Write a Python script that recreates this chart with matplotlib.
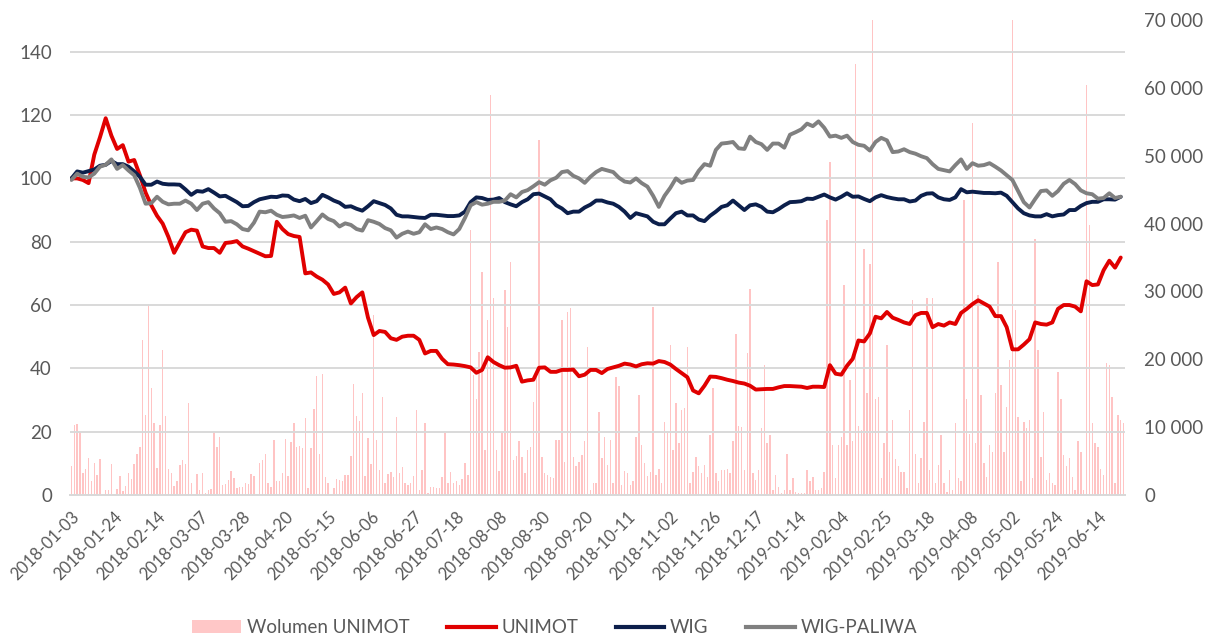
import numpy as np
import matplotlib
matplotlib.use("Agg")
import matplotlib.pyplot as plt
from matplotlib.ticker import FuncFormatter, MultipleLocator
from matplotlib.patches import Patch
from matplotlib.lines import Line2D

plt.rcParams['font.family'] = ['Lato', 'DejaVu Sans']

# tick labels, one every 15 sessions
date_labels = [
    "2018-01-03", "2018-01-24", "2018-02-14", "2018-03-07", "2018-03-28",
    "2018-04-20", "2018-05-15", "2018-06-06", "2018-06-27", "2018-07-18",
    "2018-08-08", "2018-08-30", "2018-09-20", "2018-10-11", "2018-11-02",
    "2018-11-26", "2018-12-17", "2019-01-14", "2019-02-04", "2019-02-25",
    "2019-03-18", "2019-04-08", "2019-05-02", "2019-05-24", "2019-06-14",
]

# index values (start = 100), read every second session
unimot = [
    100, 100, 99.5, 98.5, 107.5, 113, 119, 113.5, 109.3, 110.5,
    105.3, 105.8, 101, 95.5, 91.5, 88.2, 85.7, 81.5, 76.5, 79.8,
    83, 83.8, 83.5, 78.5, 78, 78, 76.5, 79.6, 79.8, 80.2,
    78.5, 77.8, 77, 76.2, 75.4, 75.5, 86.3, 84, 82.4, 81.8,
    81.5, 70, 70.3, 69, 68, 66.5, 63.5, 64, 65.5, 60.5,
    62.5, 64, 56, 50.5, 51.8, 51.5, 49.5, 49, 50, 50.3, 50.3,
    49, 44.7, 45.5, 45.5, 43, 41.3, 41.2, 41, 40.7, 40.3,
    38.6, 39.5, 43.5, 42, 41, 40.2, 40.3, 40.8, 35.8, 36.2,
    36.4, 40.2, 40.3, 38.9, 38.9, 39.5, 39.5, 39.6, 37.5, 38, 39.5,
    39.5, 38.5, 39.8, 40.3, 40.8, 41.5, 41.2, 40.6, 41.3, 41.6,
    41.5, 42.3, 42, 41.2, 39.8, 38.5, 37.2, 33, 32.1, 34.5,
    37.4, 37.3, 36.9, 36.4, 36, 35.5, 35.2, 34.5, 33.3, 33.4, 33.5,
    33.5, 34, 34.4, 34.4, 34.3, 34.2, 33.8, 34.2, 34.2, 34.1,
    41, 38.3, 38, 40.8, 43, 48.8, 48.5, 51, 56.3, 55.8,
    57.8, 56, 55.3, 54.5, 54, 56.8, 57.5, 57.5, 53, 54,
    53.5, 54.5, 54, 57.5, 58.8, 60.3, 61.5, 60.5, 59.5, 56.5,
    56.5, 53, 46, 46, 47.5, 49.2, 54.5, 54, 53.8, 54.5,
    58.8, 60, 60, 59.5, 58, 67.5, 66.3, 66.5, 71, 74, 71.8, 75,
]

wig = [
    100, 102.2, 101.8, 102.3, 102.8, 104, 104.3, 105.5, 104.5, 104.5,
    103.7, 102.2, 100.5, 98, 98, 99, 98.3, 98.1, 98.1, 98,
    96.5, 94.8, 96, 95.8, 96.6, 95.5, 94.3, 94.5, 93.5, 92.5,
    91.2, 91.3, 92.5, 93.4, 93.8, 94.2, 94.1, 94.6, 94.5, 93.3,
    92.8, 93.5, 92.2, 92.8, 94.8, 94, 93, 92.3, 91, 91.2,
    90.4, 89.8, 91.2, 92.8, 92.2, 91.6, 90.5, 88.5, 88, 88, 87.8,
    87.6, 87.5, 88.5, 88.5, 88.3, 88.1, 88.1, 88.3, 89.5, 92.5,
    94, 93.8, 93.2, 93.3, 93.8, 92.5, 91.8, 91.2, 92.5, 93.4,
    95, 95.2, 94.3, 93.4, 91.5, 90.5, 89, 89.5, 89.5, 90.8, 91.7,
    93, 93, 92.4, 92, 91, 89.5, 87.5, 89, 88.5, 88,
    86.3, 85.5, 85.5, 87.3, 89, 89.5, 88.3, 88.3, 87, 86.5,
    88.2, 89.5, 91, 91.5, 93, 91.5, 90, 91.5, 91.8, 91, 89.5,
    89.3, 90.3, 91.5, 92.5, 92.6, 92.8, 93.6, 93.5, 94.2, 94.9,
    94, 93.3, 94.2, 95.3, 94.2, 94.3, 93.5, 92.8, 94, 94.7,
    94.1, 93.7, 93.4, 93.4, 92.7, 93, 94.5, 95.2, 95.3, 94,
    93.4, 93.2, 94, 96.6, 95.6, 95.8, 95.6, 95.4, 95.4, 95.3,
    95.5, 94.5, 92.5, 90.5, 89, 88.3, 88, 88, 88.7, 88,
    88.4, 88.6, 90, 90, 91.3, 92.2, 92.6, 92.6, 93.4, 93.4, 93.3, 94.2,
]

wig_paliwa = [
    99.5, 101.5, 100.5, 100.3, 101.5, 103.7, 104.3, 106, 103, 104.2,
    102.5, 101, 97, 92, 92.2, 94.2, 92.6, 91.8, 92, 92,
    93, 92, 90, 92, 92.5, 90.5, 89, 86.3, 86.5, 85.5,
    84, 83.6, 86, 89.5, 89.3, 89.8, 88.5, 87.8, 88, 88.3,
    87.5, 88.2, 84.5, 86.5, 88.6, 87.2, 86.5, 84.8, 85.8, 85.3,
    84, 83.5, 86.8, 86.3, 85.6, 84.3, 83.6, 81.3, 82.5, 83.2, 82.5,
    83, 85.5, 84, 84.5, 84, 83, 82.3, 84, 87.5, 91.5,
    92.5, 91.7, 92, 92.6, 92.6, 93, 95, 94, 95.7, 96.3,
    97.5, 98.8, 98, 99.4, 100.2, 102, 102.3, 100.8, 100, 98.6, 100.5,
    102, 103, 102.5, 102, 100.2, 99, 98.7, 100, 98.5, 97.4,
    94.5, 91, 94.5, 97, 100, 98.6, 99.3, 99.5, 102.4, 104.5,
    104, 109, 111, 111.2, 111.5, 109.5, 109.3, 113.2, 111.5, 110.8, 109,
    111, 111, 109.7, 113.8, 114.6, 115.5, 117.3, 116.5, 118, 116,
    113.2, 113.5, 112.8, 113.5, 111.5, 110.6, 110.3, 108.8, 111.5, 112.8,
    112, 108.3, 108.5, 109.2, 108.3, 107.8, 107, 106.4, 104.5, 103,
    102.6, 102.2, 104.2, 106, 103, 104.8, 104, 104.2, 104.8, 103.7,
    102.5, 101, 99.5, 96, 92.5, 90.8, 93.5, 96, 96.2, 94.5,
    96, 98.3, 99.5, 98.2, 96.2, 95.3, 95, 93.6, 93.8, 95.3, 93.8, 94.2,
]

# daily traded volume (shares)
volume = [
    4200, 10300, 10400, 9300, 3200, 3900, 5400, 2000, 4700, 2900,
    5300, 0, 700, 700, 4600, 0, 900, 2800, 600, 1300,
    3200, 2400, 4600, 6100, 7000, 22800, 11800, 28200, 15800, 10600,
    4000, 10300, 21400, 11600, 3800, 3300, 1300, 2000, 4400, 5200,
    4500, 13500, 1700, 0, 3100, 700, 3200, 250, 800, 900,
    9300, 7100, 8600, 1500, 1600, 2200, 3500, 2500, 1000, 1200,
    1200, 1700, 1600, 3100, 2800, 150, 4700, 5200, 6100, 1800,
    1200, 8100, 2000, 2000, 3200, 8200, 2800, 7800, 10600, 7100,
    7200, 6900, 11300, 1000, 6900, 12700, 17500, 6100, 17800, 2600,
    1700, 150, 1000, 2300, 2200, 2000, 2900, 2900, 5800, 16400,
    11600, 10900, 15100, 2800, 8400, 4500, 26500, 8100, 3700, 14500,
    1700, 3100, 3400, 2700, 11500, 3200, 4100, 1700, 1500, 1800,
    2800, 12500, 700, 3700, 10600, 250, 1200, 1200, 1000, 1000,
    2700, 9100, 1700, 3400, 1700, 2100, 1500, 2300, 4700, 2900,
    39000, 17700, 14200, 21100, 32900, 6600, 25800, 58900, 29000, 6600,
    3500, 9100, 30200, 24800, 34300, 5200, 5700, 7900, 5600, 3200,
    6700, 7100, 13700, 17900, 52300, 5600, 3200, 2900, 2700, 2500,
    8100, 8100, 25800, 4900, 27000, 27500, 5600, 4200, 4900, 5900,
    7900, 21800, 700, 1700, 1700, 12300, 5400, 8600, 4400, 8100,
    1700, 17400, 16000, 1500, 3600, 3300, 1500, 2000, 8600, 14700,
    7400, 4700, 2800, 3400, 27700, 2900, 3900, 1700, 10800, 9100,
    22100, 6600, 13500, 7600, 12500, 12800, 21800, 1700, 3400, 5600,
    4200, 3200, 4400, 2700, 8800, 15700, 3200, 2000, 3700, 3700,
    3900, 3200, 7900, 23800, 10100, 10000, 3700, 20900, 30400, 3200,
    2200, 3700, 9800, 19100, 7600, 8800, 700, 2900, 1200, 250,
    700, 6000, 700, 2500, 500, 350, 250, 250, 3700, 2000,
    2700, 800, 700, 1000, 3400, 40500, 49100, 7400, 2500, 7400,
    8600, 30900, 7400, 16900, 7900, 63600, 10100, 9600, 36300, 15000,
    34100, 72000, 14200, 14500, 2500, 7600, 22100, 6400, 11000, 5300,
    4200, 3400, 3400, 1000, 12500, 28700, 6100, 1700, 5400, 10800,
    29000, 3700, 29000, 1700, 4400, 8800, 1700, 500, 3700, 700,
    10600, 2500, 2000, 43500, 14200, 9000, 54800, 7600, 29500, 14700,
    4700, 2700, 7400, 6400, 15000, 34400, 16200, 6400, 13000, 19900,
    72000, 27300, 11500, 2000, 10800, 9800, 11000, 2500, 37800, 21400,
    5600, 12300, 2200, 3200, 1700, 1500, 18200, 14200, 5900, 4200,
    5400, 2700, 700, 7900, 6400, 700, 60400, 39800, 10600, 7600,
    7100, 3900, 2900, 19400, 19100, 14500, 1700, 11800, 11000, 10600,
]

n_days = len(volume)
x_vol = np.arange(n_days)
x_line = np.arange(0, n_days, 2)[:len(unimot)]

text_color = '#595959'
grid_color = '#D9D9D9'

fig = plt.figure(figsize=(12.14, 6.4), dpi=100)
ax = fig.add_axes([0.0577, 0.2266, 0.869, 0.742])
axv = ax.twinx()
# volume bars behind the lines
axv.set_zorder(ax.get_zorder() - 1)
ax.patch.set_visible(False)

axv.bar(x_vol, volume, width=0.5, color='#FFC4C4', linewidth=0)
axv.set_ylim(0, 70000)
axv.yaxis.set_major_locator(MultipleLocator(10000))
axv.yaxis.set_major_formatter(FuncFormatter(lambda v, p: f"{int(v):,}".replace(",", " ")))

ax.plot(x_line, unimot, color='#E00000', lw=2.8, solid_capstyle='round')
ax.plot(x_line, wig, color='#0C1F4B', lw=2.8, solid_capstyle='round')
ax.plot(x_line, wig_paliwa, color='#808080', lw=2.8, solid_capstyle='round')

ax.set_xlim(-0.5, n_days - 0.5)
ax.set_ylim(0, 150)
ax.yaxis.set_major_locator(MultipleLocator(20))
ax.grid(axis='y', color=grid_color, lw=1.4)
ax.set_axisbelow(True)

ax.set_xticks(x_vol[::15])
ax.set_xticklabels(date_labels, rotation=45, ha='right', va='top',
                   rotation_mode='anchor')

for a in (ax, axv):
    for s in ('top', 'left', 'right'):
        a.spines[s].set_visible(False)
    a.spines['bottom'].set_color(grid_color)
    a.spines['bottom'].set_linewidth(1.4)
ax.tick_params(axis='x', length=0, pad=10, labelsize=12, labelcolor=text_color)
ax.tick_params(axis='y', length=0, pad=13, labelsize=13.5, labelcolor=text_color)
axv.tick_params(axis='y', length=0, pad=14, labelsize=13.5, labelcolor=text_color)

handles = [
    Patch(facecolor='#FFC7C7', edgecolor='none'),
    Line2D([], [], color='#E00000', lw=3),
    Line2D([], [], color='#0C1F4B', lw=3),
    Line2D([], [], color='#808080', lw=3),
]
labels = ["Wolumen UNIMOT", "UNIMOT", "WIG", "WIG-PALIWA"]
fig.legend(handles, labels, loc='center', bbox_to_anchor=(0.457, 0.019), ncol=4,
           frameon=False, handlelength=2.6, handletextpad=0.3, columnspacing=2.0,
           fontsize=13.5, labelcolor=text_color)

fig.savefig("out.png", dpi=100)
